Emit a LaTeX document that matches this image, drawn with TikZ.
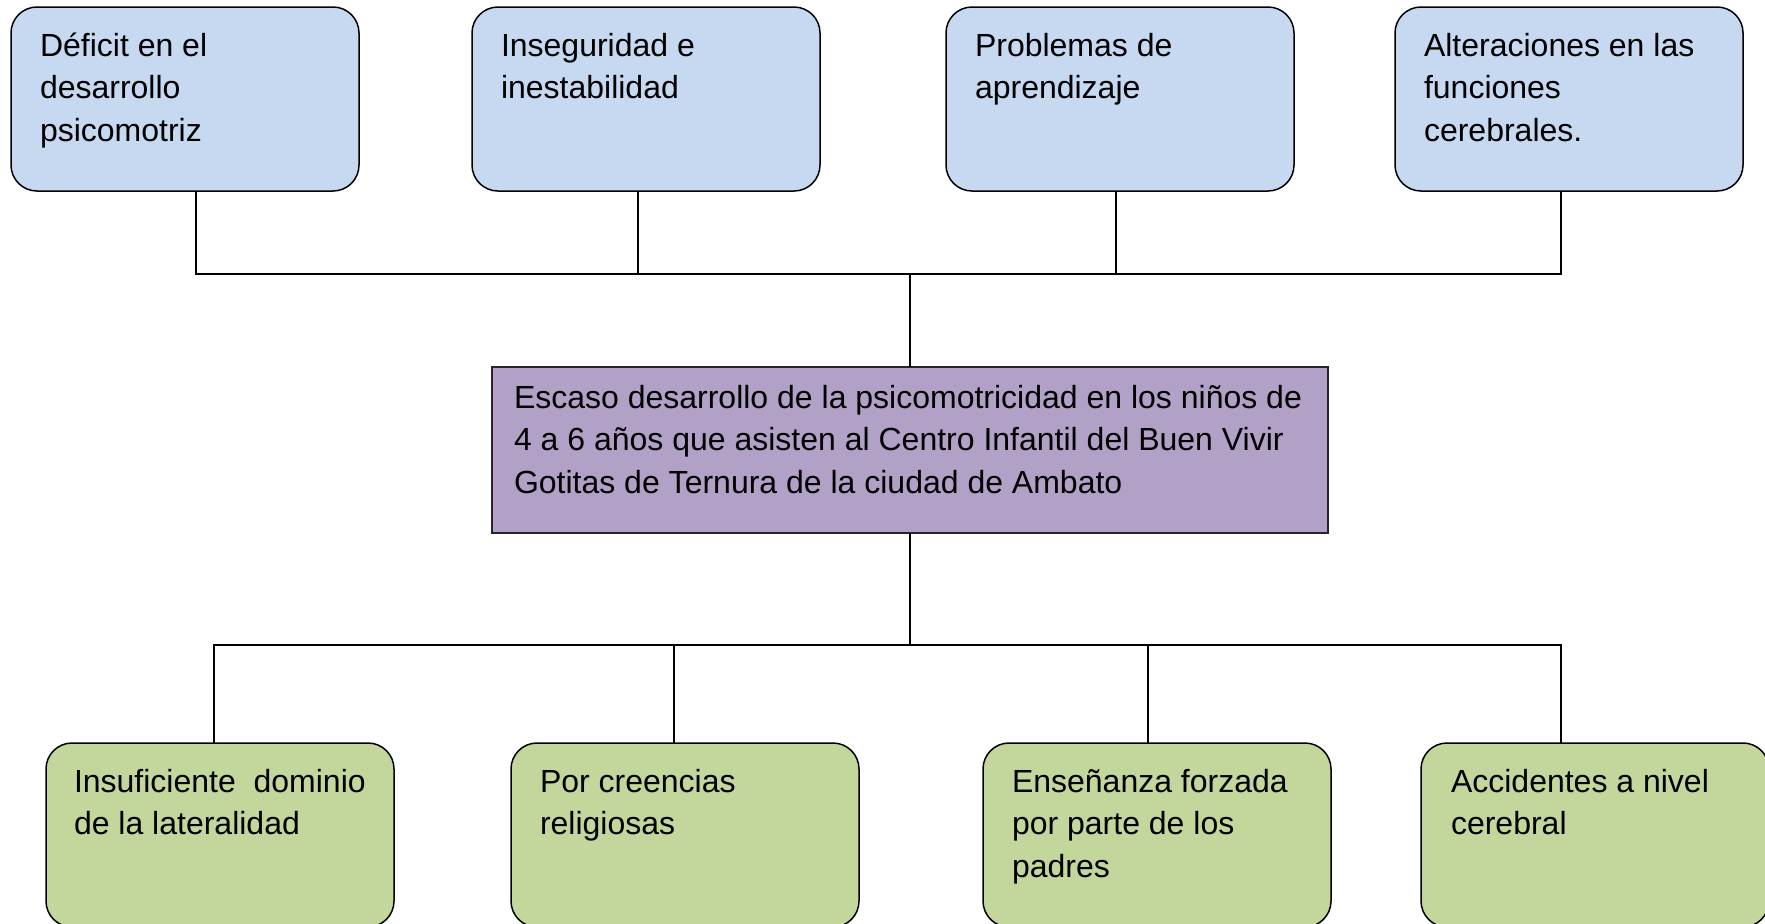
\documentclass[tikz,border=0pt]{standalone}
\usepackage{fontspec}
\setmainfont{Liberation Sans}
\definecolor{boxblue}{HTML}{C6D9F1}
\definecolor{boxgreen}{HTML}{C3D69B}
\definecolor{boxpurple}{HTML}{B2A1C7}
\begin{document}
\begin{tikzpicture}[x=0.5pt,y=-0.5pt,
  rbox/.style={draw=black, line width=0.75pt, rounded corners=13pt, anchor=north west,
    minimum width=174pt, minimum height=92pt, inner sep=0pt, outer sep=0pt},
  topbox/.style={rbox, fill=boxblue},
  botbox/.style={rbox, fill=boxgreen},
  midbox/.style={draw=black!85, line width=0.85pt, fill=boxpurple, anchor=north west,
    minimum width=418pt, minimum height=83pt, inner sep=0pt, outer sep=0pt},
  txt/.style={anchor=north west, inner sep=0pt, outer sep=0pt, align=left,
    font=\fontsize{16pt}{21.25pt}\selectfont},
  conn/.style={draw=black, line width=0.6pt}]
\useasboundingbox (0,0) rectangle (1765,923);

% top boxes
\node[topbox] (t1) at (11,7) {};
\node[topbox] (t2) at (472,7) {};
\node[topbox] (t3) at (946,7) {};
\node[topbox] (t4) at (1395,7) {};
\node[txt] (t1t) at ([shift={(29,25)}]t1.north west) {\rule{0pt}{12pt}Déficit en el\\desarrollo\\psicomotriz};
\node[txt] (t2t) at ([shift={(29,25)}]t2.north west) {\rule{0pt}{12pt}Inseguridad e\\inestabilidad};
\node[txt] (t3t) at ([shift={(29,25)}]t3.north west) {\rule{0pt}{12pt}Problemas de\\aprendizaje};
\node[txt] (t4t) at ([shift={(29,25)}]t4.north west) {\rule{0pt}{12pt}Alteraciones en las\\funciones\\cerebrales.};

% center box
\node[midbox] (c) at (492,367) {};
\node[txt] (ct) at ([shift={(22,17)}]c.north west) {\rule{0pt}{12pt}Escaso desarrollo de la psicomotricidad en los niños de\\4 a 6 años que asisten al Centro Infantil del Buen Vivir\\Gotitas de Ternura de la ciudad de Ambato};

% bottom boxes
\node[botbox] (b1) at (46,743) {};
\node[botbox] (b2) at (511,743) {};
\node[botbox] (b3) at (983,743) {};
\node[botbox] (b4) at (1421,743) {};
\node[txt] (b1t) at ([shift={(28,25)}]b1.north west) {\rule{0pt}{12pt}Insuficiente\ \ dominio\\de la lateralidad};
\node[txt] (b2t) at ([shift={(29,25)}]b2.north west) {\rule{0pt}{12pt}Por creencias\\religiosas};
\node[txt] (b3t) at ([shift={(29,25)}]b3.north west) {\rule{0pt}{12pt}Enseñanza forzada\\por parte de los\\padres};
\node[txt] (b4t) at ([shift={(30,25)}]b4.north west) {\rule{0pt}{12pt}Accidentes a nivel\\cerebral};

% connectors top
\coordinate (tbus) at (911,274);
\draw[conn] ([xshift=5.5pt]t1.south) |- (tbus) -| ([xshift=-4pt]t4.south);
\draw[conn] ([xshift=-4pt]t2.south) -- ([xshift=-4pt]t2.south |- tbus);
\draw[conn] ([xshift=-2pt]t3.south) -- ([xshift=-2pt]t3.south |- tbus);
\draw[conn] (c.north) -- (c.north |- tbus);

% connectors bottom
\coordinate (bbus) at (911,645);
\draw[conn] (c.south) -- (c.south |- bbus);
\draw[conn] ([xshift=-3pt]b1.north) |- (bbus) -| ([xshift=-17pt]b4.north);
\draw[conn] ([xshift=-5.5pt]b2.north) -- ([xshift=-5.5pt]b2.north |- bbus);
\draw[conn] ([xshift=-4.5pt]b3.north) -- ([xshift=-4.5pt]b3.north |- bbus);
\end{tikzpicture}
\end{document}
